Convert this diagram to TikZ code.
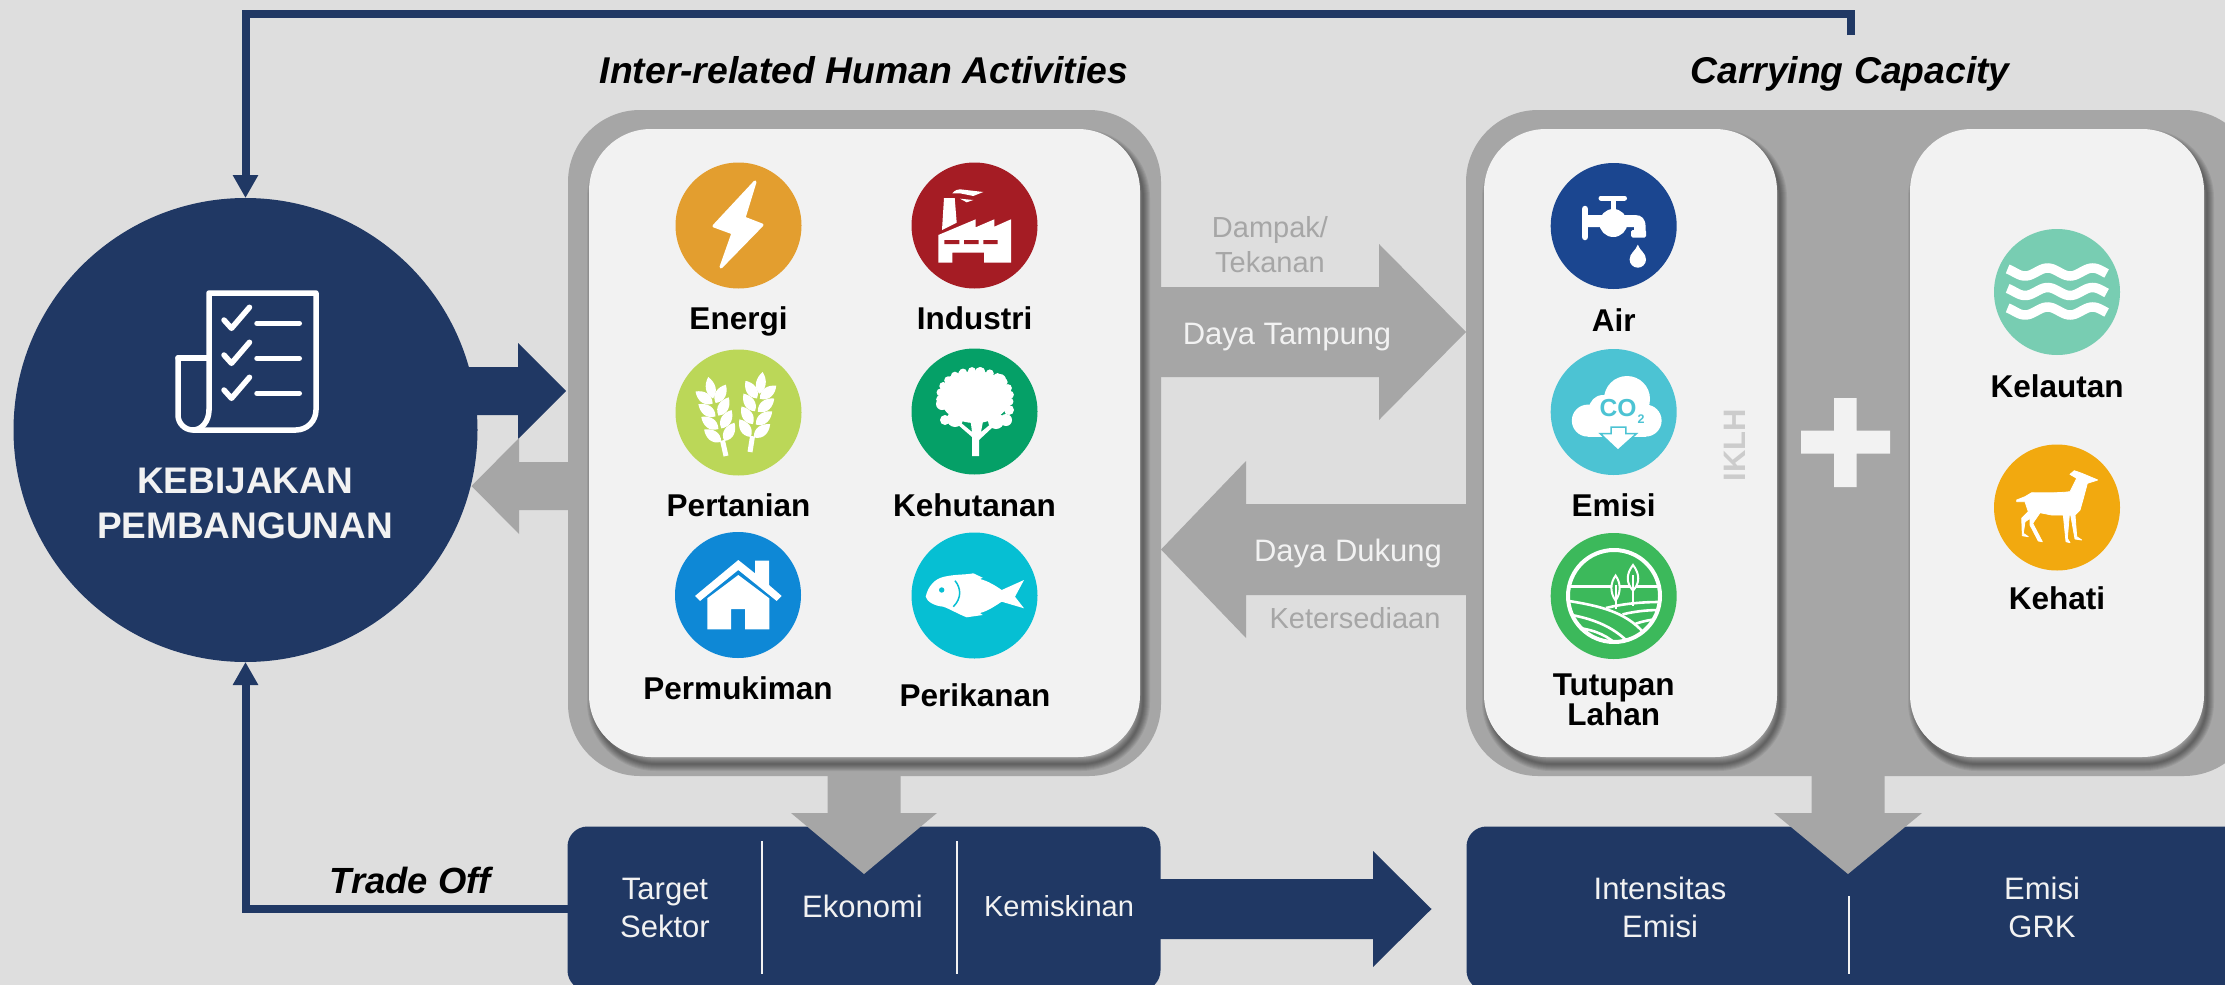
\documentclass[tikz,border=0pt]{standalone}
\usepackage{fontspec}
\setmainfont{Liberation Sans}
\usetikzlibrary{arrows.meta,calc}
\definecolor{latar}{HTML}{DEDEDE}
\definecolor{navy}{HTML}{203864}
\definecolor{abu}{HTML}{A6A6A6}
\definecolor{putih}{HTML}{F2F2F2}
\definecolor{energi}{HTML}{E39E2F}
\definecolor{industri}{HTML}{A51C24}
\definecolor{pertanian}{HTML}{BBD758}
\definecolor{kehutanan}{HTML}{05A067}
\definecolor{permukiman}{HTML}{0E88D6}
\definecolor{perikanan}{HTML}{06BFD3}
\definecolor{air}{HTML}{1B4690}
\definecolor{emisi}{HTML}{4CC3D3}
\definecolor{tutupan}{HTML}{3CB95B}
\definecolor{kelautan}{HTML}{78CDB2}
\definecolor{kehati}{HTML}{F2A90F}
\tikzset{
  panelluar/.style={rectangle, rounded corners=72pt, fill=abu, inner sep=0pt, outer sep=0pt},
  paneldalam/.style={rectangle, rounded corners=62pt, fill=putih, inner sep=0pt, outer sep=0pt},
  kotak/.style={rectangle, rounded corners=20pt, fill=navy, inner sep=0pt, outer sep=0pt},
  ikon/.style={circle, inner sep=0pt, minimum size=126pt},
  labelikon/.style={font=\fontsize{31.5}{29}\selectfont\bfseries, align=center, inner sep=0pt, text=black},
  judul/.style={font=\fontsize{37.3}{40}\selectfont\bfseries\itshape, inner sep=0pt, text=black},
  isi/.style={font=\fontsize{31}{38}\selectfont, align=center, inner sep=0pt, text=putih},
  tekanan/.style={font=\fontsize{29}{35}\selectfont, align=center, inner sep=0pt, text=abu},
  garisnavy/.style={navy, line width=8pt, -{Triangle[width=24pt,length=23pt]}},
  sekat/.style={putih, line width=2.2pt},
  gambar/.style={white, line width=5.5pt, line cap=round, line join=round}
}
% style, from, to, half shaft, half head, head length
\newcommand{\blockarrow}[6]{%
  \coordinate (ba) at ($(#3)!#6pt!(#2)$);
  \fill[#1] ($(#2)!#4pt!90:(#3)$) -- ($(ba)!#4pt!-90:(#2)$) -- ($(ba)!#5pt!-90:(#2)$) -- (#3)
    -- ($(ba)!#5pt!90:(#2)$) -- ($(ba)!#4pt!90:(#2)$) -- ($(#2)!#4pt!-90:(#3)$) -- cycle;
}
% soft edge under a white panel
\newcommand{\bayang}[4]{%
  \foreach \w in {2,4,...,14} {
    \draw[black, opacity=0.065, line width=\w pt, rounded corners=62pt] (#1+5,#2+7) rectangle (#3+3,#4+7);
  }
}
\newcommand{\bulir}[3]{%
  \begin{scope}[shift={(#1,#2)},rotate=#3]
    \fill[white] (-2.5,0) -- (2.5,0) -- (2.5,-16) -- (-2.5,-16) -- cycle;
    \foreach \gy in {-15,-28,-41,-54}{
      \fill[white,shift={(-1.5,\gy)},rotate=42] (0,0) .. controls (-8,-6) and (-6,-15) .. (0,-21) .. controls (6,-15) and (8,-6) .. (0,0);
      \fill[white,shift={(1.5,\gy)},rotate=-42] (0,0) .. controls (-8,-6) and (-6,-15) .. (0,-21) .. controls (6,-15) and (8,-6) .. (0,0);
    }
    \fill[white] (0,-59) .. controls (-7,-65) and (-6,-74) .. (0,-81) .. controls (6,-74) and (7,-65) .. (0,-59);
  \end{scope}
}
\begin{document}
\begin{tikzpicture}[x=1pt,y=-1pt]
  \useasboundingbox (0,0) rectangle (2225,985);
  \clip (0,0) rectangle (2225,985);
  \fill[latar] (0,0) rectangle (2225,985);

  % nodes behind the arrows
  \node[kotak, minimum width=593pt, minimum height=164pt] (sektor) at (864,908.5) {};
  \node[kotak, minimum width=780pt, minimum height=164pt] (hasil) at (1856.5,908.5) {};
  \node[panelluar, minimum width=593pt, minimum height=666pt] (aktivitas) at (864.5,443) {};
  \node[panelluar, minimum width=790pt, minimum height=666pt] (kapasitas) at (1861,443) {};

  % block arrows
  \coordinate (kebijakankeluar) at (450,391);
  \coordinate (aktivitasmasuk) at (566,391);
  \coordinate (aktivitaskeluar) at (580,486);
  \coordinate (kebijakanmasuk) at (471.5,486);
  \coordinate (dampakawal) at (1150,332);
  \coordinate (dampakujung) at (1466,332);
  \coordinate (dukungawal) at (1480,549.5);
  \coordinate (dukungujung) at (1161,549.5);
  \coordinate (sektorkeluar) at (1150,909);
  \coordinate (hasilmasuk) at (1431.5,909);
  \coordinate (aktivitasbawah) at (864,765);
  \coordinate (sektormasuk) at (864,874);
  \coordinate (kapasitasbawah) at (1848,765);
  \coordinate (hasilatas) at (1848,874);
  \blockarrow{navy}{kebijakankeluar}{aktivitasmasuk}{24}{48}{48}
  \blockarrow{abu}{aktivitaskeluar}{kebijakanmasuk}{24}{48}{47.5}
  \blockarrow{abu}{dampakawal}{dampakujung}{45}{88}{87}
  \blockarrow{abu}{dukungawal}{dukungujung}{45.5}{88.5}{85}
  \blockarrow{navy}{sektorkeluar}{hasilmasuk}{30}{58}{58.5}
  \blockarrow{abu}{aktivitasbawah}{sektormasuk}{36.5}{73}{61}
  \blockarrow{abu}{kapasitasbawah}{hasilatas}{36.5}{74}{61}

  \node[circle, fill=navy, inner sep=0pt, outer sep=0pt, minimum size=464pt] (kebijakan) at (245.5,430) {};
  \bayang{589}{129}{1140}{757}
  \bayang{1484}{129}{1777}{757}
  \bayang{1910}{129}{2204}{757}
  \node[paneldalam, minimum width=551pt, minimum height=628pt] (sektorputih) at (864.5,443) {};
  \node[paneldalam, minimum width=293pt, minimum height=628pt] (iklhputih) at (1630.5,443) {};
  \node[paneldalam, minimum width=294pt, minimum height=628pt] (kehatiputih) at (2057,443) {};

  % feedback lines
  \coordinate (kapasitasatas) at (1851,35);
  \coordinate (baliktitik) at (245.5,14);
  \draw[garisnavy] (kapasitasatas) |- (baliktitik) -- (kebijakan);
  \draw[garisnavy] (sektor.west) -| (kebijakan.south);

  % dividers
  \draw[sekat] (762,841) -- (762,974);
  \draw[sekat] (957,841) -- (957,974);
  \draw[sekat] (1848.6,896) -- (1848.6,974);

  % titles and texts
  \node[judul] (judulaktivitas) at (864,70) {Inter-related Human Activities};
  \node[judul] (judulkapasitas) at (1850,74) {Carrying Capacity};
  \node[judul, font=\fontsize{36.4}{40}\selectfont\bfseries\itshape] (tradeoff) at (410,880) {Trade Off};
  \node[font=\fontsize{37}{45}\selectfont\bfseries, align=center, text=putih, inner sep=0pt] (namakebijakan) at (245,503) {KEBIJAKAN\\PEMBANGUNAN};
  \node[tekanan] (dampak) at (1270,245) {Dampak/\\Tekanan};
  \node[isi] (tampung) at (1287,337) {Daya Tampung};
  \node[isi] (dukung) at (1348,553) {Daya Dukung};
  \node[tekanan] (ketersediaan) at (1355,618) {Ketersediaan};
  \node[isi] (target) at (665,908) {Target\\Sektor};
  \node[isi] (ekonomi) at (862.5,906) {Ekonomi};
  \node[isi, font=\fontsize{29}{38}\selectfont] (kemiskinan) at (1059,906) {Kemiskinan};
  \node[isi] (intensitas) at (1660,907) {Intensitas\\Emisi};
  \node[isi] (grk) at (2042,907) {Emisi\\GRK};
  \node[font=\fontsize{31}{31}\selectfont\bfseries, text=black!20, rotate=90, inner sep=0pt] (iklh) at (1735,445) {IKLH};

  % plus
  \fill[putih] (1801,430.5) -- (1834,430.5) -- (1834,398) -- (1856.5,398) -- (1856.5,430.5) -- (1890,430.5)
    -- (1890,453.5) -- (1856.5,453.5) -- (1856.5,487) -- (1834,487) -- (1834,453.5) -- (1801,453.5) -- cycle;

  % sector icons
  \node[ikon, fill=energi] (ikonenergi) at (738.5,225.5) {};
  \node[ikon, fill=industri] (ikonindustri) at (974.5,225.5) {};
  \node[ikon, fill=pertanian] (ikonpertanian) at (738.5,412.5) {};
  \node[ikon, fill=kehutanan] (ikonkehutanan) at (974.5,411.5) {};
  \node[ikon, fill=permukiman] (ikonpermukiman) at (738,595) {};
  \node[ikon, fill=perikanan] (ikonperikanan) at (974.5,595.5) {};
  \node[labelikon] (energi) at (738.5,321) {Energi};
  \node[labelikon] (industri) at (974.5,318) {Industri};
  \node[labelikon] (pertanian) at (738.5,505) {Pertanian};
  \node[labelikon] (kehutanan) at (974.5,505) {Kehutanan};
  \node[labelikon] (permukiman) at (738,688) {Permukiman};
  \node[labelikon] (perikanan) at (975,695) {Perikanan};

  % carrying capacity icons
  \node[ikon, fill=air] (ikonair) at (1613.7,226) {};
  \node[ikon, fill=emisi] (ikonemisi) at (1613.7,412) {};
  \node[ikon, fill=tutupan] (ikontutupan) at (1613.7,596) {};
  \node[ikon, fill=kelautan] (ikonkelautan) at (2057,292) {};
  \node[ikon, fill=kehati] (ikonkehati) at (2057,507.5) {};
  \node[labelikon] (air) at (1613.7,320) {Air};
  \node[labelikon] (emisi) at (1613.7,505.5) {Emisi};
  \node[labelikon] (tutupan) at (1613.7,699.5) {Tutupan\\Lahan};
  \node[labelikon] (kelautan) at (2057,386) {Kelautan};
  \node[labelikon] (kehati) at (2057,598.5) {Kehati};

  % document
  \draw[gambar] (178,358) -- (209,358);
  \draw[gambar] (209,410) -- (209,293) -- (316,293) -- (316,410) arc (0:90:20) -- (193,430) arc (90:180:15) -- (178,358);
  \draw[gambar] (209,410) arc (0:90:16 and 20);
  \foreach \dy in {0,35,70}{
    \draw[gambar] (224,320+\dy) -- (231.5,328.3+\dy) -- (249.5,307.3+\dy);
    \draw[gambar] (257,323.3+\dy) -- (299.3,323.3+\dy);
  }

  % bolt
  \filldraw[white, line width=3pt, line join=round] (755,182) -- (714,226) -- (733,233) -- (721,267) -- (762,225) -- (744,218) -- cycle;

  % factory
  \fill[white] (944,198) -- (954.7,198) -- (956.7,222.7) -- (942,230) -- cycle;
  \fill[white] (938.3,235) -- (975.7,219.3) -- (975.7,227.3) -- (994.3,219.3) -- (994.3,226.7) -- (1011,219.3)
    -- (1011,262.7) -- (984,262.7) -- (984,252.7) -- (952.3,252.7) -- (952.3,262.7) -- (938.3,262.7) -- cycle;
  \fill[industri] (944.3,240) rectangle (959.3,244) (964,240) rectangle (978.7,244) (983.3,240) rectangle (997.7,244);
  \fill[white] (952.3,193.3) .. controls (955,190) and (958,189.3) .. (960,189.3) -- (983.3,192) -- (973.3,196) -- (960,193.3) -- cycle;
  \fill[white] (960,198.7) -- (973.3,200) -- (966.7,202.3) -- cycle;

  % wheat
  \bulir{726}{456}{12.7}
  \bulir{750}{452}{-9}

  % tree
  \fill[white] (975,397) ellipse (35 and 26);
  \foreach \cx/\cy/\cr in {945/420/5, 955/419/8, 1006/420/6, 996/421/8, 972/412/8, 983/412/6,
    942/404/6, 1009/410/5, 951/381/5, 1000/380/6, 980/372/5, 962/374/4} {
    \fill[white] (\cx,\cy) circle (\cr);
  }
  \foreach \a in {-25,-10,...,205} {
    \fill[white] ({975+35*cos(\a)}, {397-26*sin(\a)}) circle ({2+mod(\a+30,3)});
  }
  \fill[white] (972,456) -- (972,437) -- (957,424) -- (960,422) -- (972,432) -- (970,416) -- (984,416) -- (981,432)
    -- (992,423) -- (994,426) -- (979,440) -- (979,456) -- cycle;

  % house
  \fill[white] (695,596) -- (738.3,560) -- (755,573.3) -- (755,560.7) -- (769,560.7) -- (769,585) -- (781.7,596)
    -- (776.7,601) -- (738.3,570) -- (700,601) -- cycle;
  \fill[white] (707.3,598.3) -- (738.3,575) -- (769.3,598.3) -- (769.3,629.3) -- (745,629.3) -- (745,609)
    -- (731,609) -- (731,629.3) -- (707.3,629.3) -- cycle;

  % fish
  \fill[white] (925.7,596.7) .. controls (928,586) and (935,579) .. (943,577) .. controls (955,574) and (965,575) .. (973.3,573.3)
    -- (982.7,577.7) -- (980,579) .. controls (988,581) and (996,586) .. (1001.7,590) -- (1024,580) -- (1015,596.7) -- (1024,608.3)
    -- (1001.7,601.7) .. controls (995,606) and (988,611) .. (980,613) -- (982.7,615) -- (966.7,617.3) .. controls (958,614) and (950,609) .. (943.3,606.7)
    .. controls (935,606) and (927,602) .. (925.7,596.7) -- cycle;
  \fill[perikanan] (941.7,590) circle (2.7);
  \draw[perikanan, line width=1.5pt] (955,580.7) .. controls (961,588) and (962,598) .. (953.3,606.7);

  % tap
  \draw[white, line width=5pt, line cap=round] (1601,198) -- (1624.5,198);
  \draw[white, line width=5pt] (1613.3,198) -- (1613.3,215);
  \fill[white] (1613.3,223) circle (14);
  \draw[white, line width=6.5pt, line cap=round] (1585,209) -- (1585,237);
  \fill[white] (1585,215) -- (1635,215) .. controls (1642,215) and (1645.6,219) .. (1645.6,227) -- (1645.6,232) -- (1634,232) -- (1634,227) -- (1585,227) -- cycle;
  \fill[white, rounded corners=1.5pt] (1631,230) rectangle (1646,237.5);
  \fill[white] (1637.8,244.7) .. controls (1640,251) and (1646,253) .. (1646,259.5) arc (0:180:8.2) .. controls (1629.6,253) and (1635.6,251) .. (1637.8,244.7) -- cycle;

  % cloud
  \fill[white] (1627,399) circle (23) (1587.8,420.6) circle (16) (1645.6,420.6) circle (16) (1603,409) circle (14);
  \fill[white] (1588,412) rectangle (1646,436.6);
  \node[font=\fontsize{24.6}{25}\selectfont\bfseries, text=emisi, inner sep=0pt] (ikonco) at (1618,408) {CO};
  \node[font=\fontsize{12.5}{13}\selectfont\bfseries, text=emisi, inner sep=0pt] (ikonco2) at (1641,419.5) {2};
  \filldraw[fill=white, draw=emisi, line width=1.5pt] (1611,427) -- (1625.8,427) -- (1625.8,433.7) -- (1636.4,433.7) -- (1617.9,450.3) -- (1600.3,433.7) -- (1611,433.7) -- cycle;

  % land
  \draw[white, line width=4pt] (1614,596) circle (46);
  \begin{scope}
    \clip (1614,596) circle (46);
    \draw[white, line width=3pt] (1567,586.7) -- (1661,586.7);
    \draw[white, line width=2.6pt] (1569,601) .. controls (1600,606) and (1625,612) .. (1643,632);
    \draw[white, line width=2.6pt] (1566,614) .. controls (1590,618) and (1612,625) .. (1630,644);
    \draw[white, line width=2.6pt] (1572,627) .. controls (1590,629) and (1604,633) .. (1616,644);
    \draw[white, line width=2.6pt] (1606,608) .. controls (1622,604) and (1640,602) .. (1660,602);
    \draw[white, line width=2.6pt] (1622.5,614.4) .. controls (1632,612) and (1645,610) .. (1660,610);
    \draw[white, line width=2.6pt] (1634,624.4) .. controls (1640,622) and (1648,620) .. (1658,619);
  \end{scope}
  \filldraw[fill=tutupan, draw=white, line width=2pt] (1615.6,575.6) .. controls (1621,583) and (1621,593) .. (1615.6,600.6) .. controls (1610,593) and (1610,583) .. (1615.6,575.6) -- cycle;
  \filldraw[fill=tutupan, draw=white, line width=2pt] (1633,565) .. controls (1640,574) and (1640,583) .. (1633,590.6) .. controls (1626,583) and (1626,574) .. (1633,565) -- cycle;
  \draw[white, line width=2pt] (1615.6,585) -- (1615.6,609) (1633,575) -- (1633,606);

  % waves
  \foreach \wy in {272,291.5,311} {
    \draw[white, line width=9.5pt] plot[domain=0:99, samples=50] ({2007.6+\x}, {\wy-4*cos(8*(\x-40))});
  }

  % deer
  \filldraw[white, line width=0.8pt, line join=round] (2016.7,500) -- (2025,496.7) -- (2031.7,492.7) .. controls (2045,493) and (2060,493) .. (2070,491.7)
    -- (2076.7,478.3) -- (2070,474.3) -- (2074.3,470.7) -- (2081.7,473.3) -- (2097.7,480) -- (2087.3,483.3) -- (2083.3,498.3) -- (2080,510)
    -- (2075,515) -- (2076.7,536.7) -- (2081.7,540) -- (2075,539) -- (2070.7,515) -- (2069.3,515) -- (2067.3,538.3) -- (2070,542.7) -- (2066,541.7) -- (2063.3,515)
    -- (2051.7,515) -- (2040,512.7) -- (2032.7,523.3) -- (2042.3,541.7) -- (2038.3,541) -- (2030,525) -- (2030,518.3) -- (2025,521.7) -- (2023.3,533.3) -- (2028.3,536.7)
    -- (2022.3,535.7) -- (2021.7,518.3) -- (2028.3,511.7) -- (2025,501.7) -- (2016.7,501.7) -- cycle;
\end{tikzpicture}
\end{document}
